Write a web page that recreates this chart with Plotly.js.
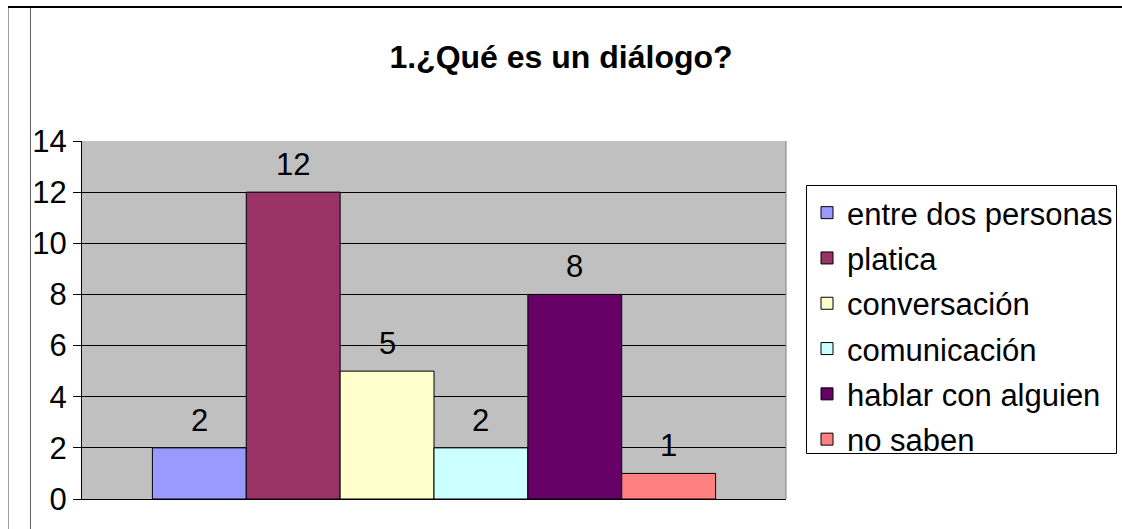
<!DOCTYPE html>
<html>
<head>
<meta charset="utf-8">
<script src="https://cdn.plot.ly/plotly-3.0.1.min.js"></script>
<style>
  html, body { margin: 0; padding: 0; background: #fff; }
  #wrap { position: relative; width: 1122px; height: 529px; overflow: hidden; }
  #chart { position: absolute; left: 0; top: 0; width: 1122px; height: 529px; }
  .fl { position: absolute; pointer-events: none; }
</style>
</head>
<body>
<div id="wrap">
  <div id="chart"></div>
  <div class="fl" style="left:8px; top:6px; width:1px; height:523px; background:#a0a0a0;"></div>
  <div class="fl" style="left:30px; top:6px; width:1px; height:523px; background:#606060;"></div>
  <div class="fl" style="left:8px; top:6px; width:1114px; height:2px; background:#000;"></div>
</div>
<script>
const titleText = '1.¿Qué es un diálogo?';
const categories = ['entre dos personas', 'platica', 'conversación', 'comunicación', 'hablar con alguien', 'no saben'];
const values = [2, 12, 5, 2, 8, 1];
const colors = ['#9999FF', '#993366', '#FFFFCC', '#CCFFFF', '#660066', '#FF8080'];
const yTicks = [0, 2, 4, 6, 8, 10, 12, 14];

const FONT = 'Arial, "Liberation Sans", sans-serif';

// plot-area geometry (pixels) used to place the legend and its frame
const PL = 82, PR = 786, PT = 141, PB = 499;
const PW = PR - PL, PH = PB - PT;
const px2x = p => (p - PL) / PW;
const py2y = p => (PB - p) / PH;

const traces = categories.map((c, i) => ({
  type: 'bar',
  name: c,
  x: [c],
  y: [values[i]],
  legendgroup: 'g' + i,
  marker: { color: colors[i], line: { color: '#000', width: 1 } },
  hoverinfo: 'name+y'
}));

const annotations = categories.map((c, i) => ({
  x: c, y: values[i], xref: 'x', yref: 'y',
  text: String(values[i]), showarrow: false,
  yanchor: 'bottom', xanchor: 'center', yshift: 8,
  font: { family: FONT, size: 31, color: '#000' }
}));

const layout = {
  width: 1122, height: 529,
  margin: { l: PL, r: 1122 - PR, t: PT, b: 529 - PB, pad: 0, autoexpand: false },
  paper_bgcolor: 'rgba(0,0,0,0)',
  plot_bgcolor: '#C0C0C0',
  font: { family: FONT, size: 31, color: '#000' },
  title: {
    text: '<b>' + titleText + '</b>',
    font: { family: FONT, size: 32, color: '#000' },
    x: 0.5, xref: 'container', xanchor: 'center',
    y: 1 - 57 / 529, yref: 'container', yanchor: 'middle'
  },
  barmode: 'overlay',
  bargap: 0,
  showlegend: true,
  legend: {
    x: px2x(807), xanchor: 'left',
    y: py2y(186), yanchor: 'top',
    bgcolor: 'rgba(0,0,0,0)', borderwidth: 0,
    font: { family: FONT, size: 31, color: '#000' },
    traceorder: 'grouped', tracegroupgap: 2
  },
  xaxis: {
    type: 'category',
    categoryorder: 'array', categoryarray: categories,
    range: [-1.25, 6.25],
    showticklabels: false, ticks: '',
    showgrid: false, zeroline: false,
    showline: true, linecolor: '#000', linewidth: 1,
    fixedrange: true
  },
  yaxis: {
    range: [0, 14],
    tickvals: yTicks,
    ticktext: yTicks.map(String),
    ticks: 'outside', ticklen: 8, tickcolor: '#000', tickwidth: 1,
    showgrid: true, gridcolor: '#000', gridwidth: 1,
    zeroline: false,
    showline: true, linecolor: '#000', linewidth: 1,
    tickfont: { family: FONT, size: 31, color: '#000' },
    fixedrange: true
  },
  shapes: [
    { type: 'line', xref: 'paper', yref: 'paper', x0: 1, x1: 1, y0: 0, y1: 1,
      line: { color: '#808080', width: 1 }, layer: 'above' },
    { type: 'rect', xref: 'paper', yref: 'paper',
      x0: px2x(806.5), x1: px2x(1116.5), y0: py2y(453.5), y1: py2y(185.5),
      fillcolor: '#fff', line: { color: '#000', width: 1 }, layer: 'above' }
  ],
  annotations: annotations
};

Plotly.newPlot('chart', traces, layout, { displayModeBar: false, staticPlot: true });
</script>
</body>
</html>
